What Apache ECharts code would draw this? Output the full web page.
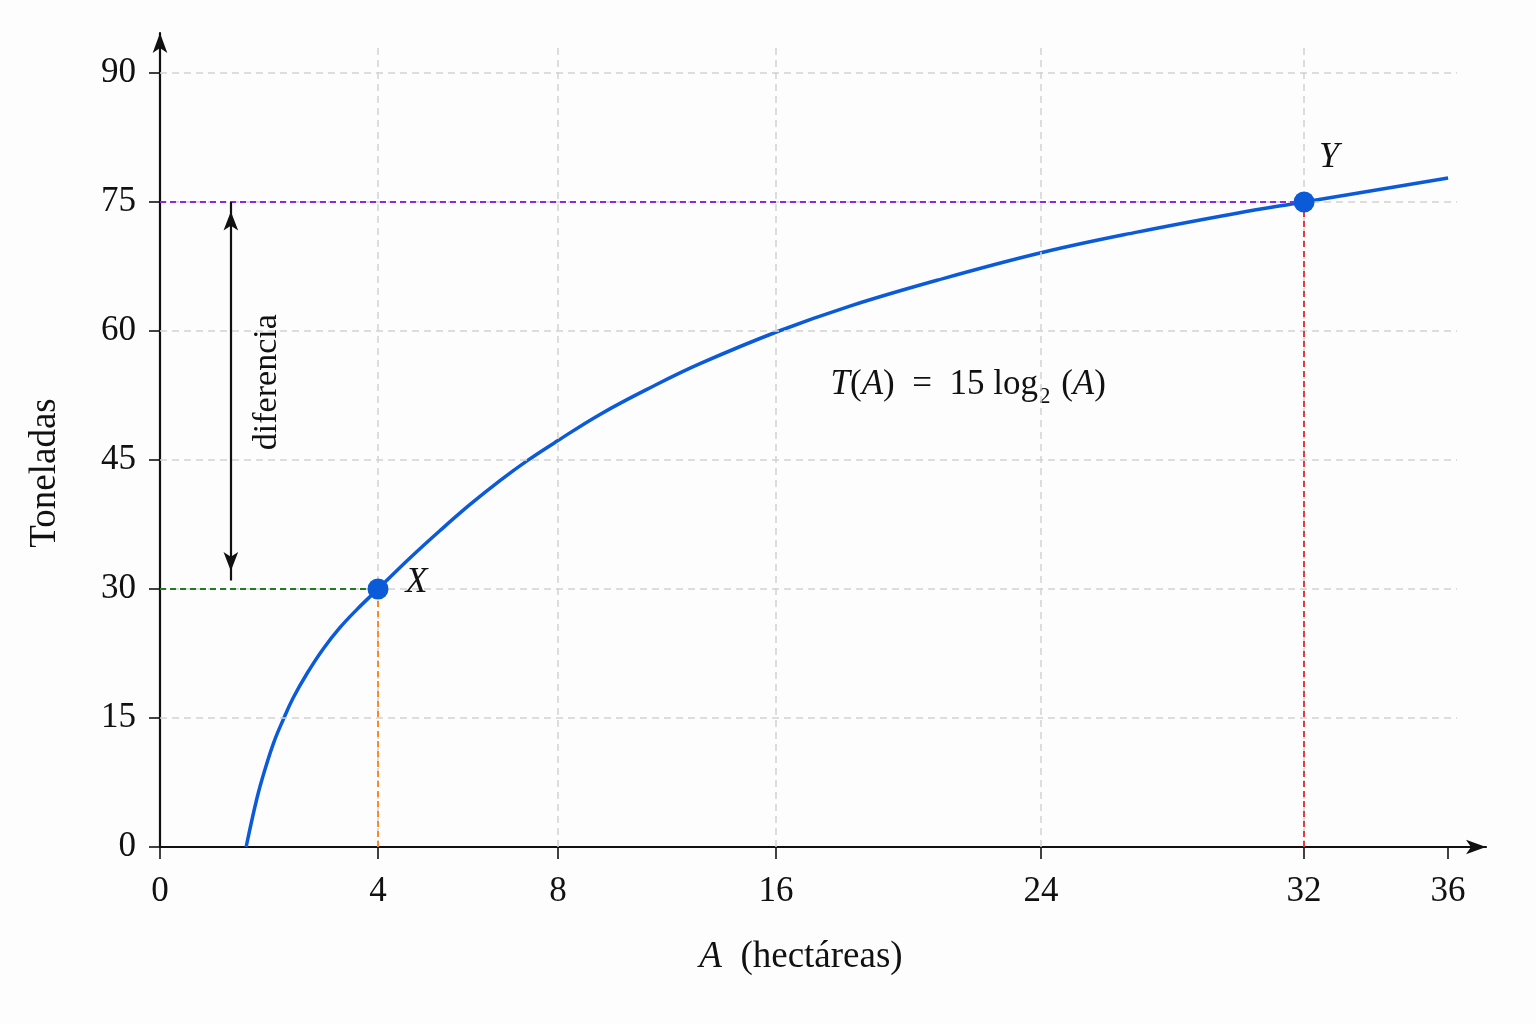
<!DOCTYPE html>
<html>
<head>
<meta charset="utf-8">
<title>T(A) = 15 log2(A)</title>
<script src="https://cdn.jsdelivr.net/npm/echarts@6.0.0/dist/echarts.min.js"></script>
<style>
html, body { margin: 0; padding: 0; background: #fdfdfd; }
#chart { width: 1536px; height: 1024px; }
</style>
</head>
<body>
<div id="chart"></div>
<script>
// x ticks (hectáreas); the picture's x scale is not linear, so each tick has its own place
var xTicks = [0, 4, 8, 16, 24, 32, 36];
var xTickPos = [0, 6.093, 11.124, 17.217, 24.624, 31.975, 36];
var xGrid = [4, 8, 16, 24, 32];
var yTicks = [0, 15, 30, 45, 60, 75, 90];

// curve
var curveA = [1.58, 1.78, 1.93, 2.09, 2.26, 2.44, 2.70, 2.99, 3.30, 3.61, 4, 4.71, 5.38, 6.04, 6.71, 7.31, 7.98,
    9.54, 11.38, 13.21, 16.09, 18.23, 20.86, 24, 26.92, 29.96, 32, 36];
var curveT = [0, 5.7, 9.1, 12.2, 14.8, 17.3, 20.2, 23.0, 25.5, 27.6, 30, 33.6, 36.8, 39.8, 42.6, 44.9, 47.2,
    50.3, 53.4, 56.2, 60.0, 62.9, 65.9, 69.1, 71.5, 73.7, 75, 77.8];

// marked points
var pointNames = ['X', 'Y'];
var pointA = [4, 32];
var pointT = [30, 75];

// "diferencia" arrow
var diffA = 1.3;
var diffT = [31, 75];

var X_MAX = 37.06, Y_MAX = 94.65;
var GRID_END_U = 36.25, GRID_TOP_T = 93.5;
var FONT = '"Liberation Serif", "DejaVu Serif", serif';
var BLUE = '#0b5bd9';
var INK = '#111';

// A -> position along the x axis
function warp(a) {
    for (var i = 1; i < xTicks.length; i++) {
        if (a <= xTicks[i] || i == xTicks.length - 1) {
            var t = (a - xTicks[i - 1]) / (xTicks[i] - xTicks[i - 1]);
            return xTickPos[i - 1] + t * (xTickPos[i] - xTickPos[i - 1]);
        }
    }
}

function tickName(u) {
    var best = 0;
    for (var i = 0; i < xTickPos.length; i++) {
        if (Math.abs(xTickPos[i] - u) < Math.abs(xTickPos[best] - u)) best = i;
    }
    return String(xTicks[best]);
}

function seg(x1, y1, x2, y2) {
    return [{ coord: [x1, y1] }, { coord: [x2, y2] }];
}

var gridLines = [];
yTicks.slice(1).forEach(function (t) { gridLines.push(seg(0, t, GRID_END_U, t)); });
xGrid.forEach(function (a) { gridLines.push(seg(warp(a), 0, warp(a), GRID_TOP_T)); });

var guideColors = ['#1e7d1e', '#ff7f0e', '#8a2be2', '#e8262e'];
var guideLines = [
    seg(0, pointT[0], warp(pointA[0]), pointT[0]),
    seg(warp(pointA[0]), 0, warp(pointA[0]), pointT[0]),
    seg(0, pointT[1], warp(pointA[1]), pointT[1]),
    seg(warp(pointA[1]), 0, warp(pointA[1]), pointT[1])
].map(function (l, i) {
    l[0].lineStyle = { color: guideColors[i] };
    return l;
});

var dom = document.getElementById('chart');
var chart = echarts.init(dom);
var option = {
    backgroundColor: '#fdfdfd',
    animation: false,
    grid: { left: 160, right: 50, top: 33, bottom: 177 },
    xAxis: {
        type: 'value',
        min: 0,
        max: X_MAX,
        name: '{i|A}  (hectáreas)',
        nameLocation: 'middle',
        nameGap: 92,
        nameTextStyle: {
            fontFamily: FONT, fontSize: 37, color: INK, padding: [0, 44, 0, 0],
            rich: { i: { fontFamily: FONT, fontSize: 37, fontStyle: 'italic', color: INK } }
        },
        axisLine: { symbol: ['none', 'arrow'], symbolSize: [11, 20], lineStyle: { color: INK, width: 2.2 } },
        axisTick: { customValues: xTickPos, length: 12, lineStyle: { color: INK, width: 1.6 } },
        axisLabel: {
            customValues: xTickPos, margin: 27, fontFamily: FONT, fontSize: 35, color: INK,
            formatter: tickName
        },
        splitLine: { show: false }
    },
    yAxis: {
        type: 'value',
        min: 0,
        max: Y_MAX,
        name: 'Toneladas',
        nameLocation: 'middle',
        nameGap: 96,
        nameTextStyle: { fontFamily: FONT, fontSize: 37, color: INK, padding: [0, 66, 0, 0] },
        axisLine: { symbol: ['none', 'arrow'], symbolSize: [11, 20], lineStyle: { color: INK, width: 2.2 } },
        axisTick: { customValues: yTicks, length: 11, lineStyle: { color: INK, width: 1.6 } },
        axisLabel: { customValues: yTicks, margin: 24, fontFamily: FONT, fontSize: 35, color: INK },
        splitLine: { show: false }
    },
    series: [{
            name: 'grid',
            type: 'line',
            data: [],
            z: 1,
            silent: true,
            markLine: {
                silent: true,
                symbol: 'none',
                label: { show: false },
                emphasis: { disabled: true },
                lineStyle: { color: '#d2d2d2', type: [7, 5], width: 1.5 },
                data: gridLines
            }
        },
        {
            name: 'guides',
            type: 'line',
            data: [],
            z: 2,
            silent: true,
            markLine: {
                silent: true,
                symbol: 'none',
                label: { show: false },
                emphasis: { disabled: true },
                lineStyle: { type: [6, 4], width: 1.8 },
                data: guideLines
            }
        },
        {
            name: 'diferencia',
            type: 'line',
            data: [],
            z: 3,
            silent: true,
            markLine: {
                silent: true,
                symbol: ['arrow', 'arrow'],
                symbolSize: [11, 19],
                symbolOffset: [[0, '50%'], [0, '50%']],
                label: { show: false },
                emphasis: { disabled: true },
                lineStyle: { color: INK, type: 'solid', width: 2.2 },
                data: [seg(warp(diffA), diffT[0], warp(diffA), diffT[1])]
            }
        },
        {
            name: 'T(A)',
            type: 'line',
            data: curveA.map(function (a, i) { return [warp(a), curveT[i]]; }),
            smooth: 0.4,
            showSymbol: false,
            z: 4,
            silent: true,
            lineStyle: { color: BLUE, width: 3.5 }
        },
        {
            name: 'puntos',
            type: 'scatter',
            z: 5,
            silent: true,
            symbolSize: 21,
            itemStyle: { color: BLUE, opacity: 1 },
            label: {
                show: true,
                formatter: '{i|{b}}',
                rich: { i: { fontFamily: FONT, fontSize: 36, fontStyle: 'italic', color: INK } }
            },
            data: pointA.map(function (a, i) {
                return {
                    name: pointNames[i],
                    value: [warp(a), pointT[i]],
                    label: i == 0 ? { position: 'right', offset: [12, -6] } : { position: 'top', offset: [25, -11] }
                };
            })
        }
    ]
};
chart.setOption(option);

// annotation texts, placed from data coordinates
var mid = chart.convertToPixel({ gridIndex: 0 }, [warp(diffA), (diffT[0] + diffT[1]) / 2]);
var fPos = chart.convertToPixel({ gridIndex: 0 }, [warp(21.8), 53.7]);
chart.setOption({
    graphic: [{
            type: 'text',
            x: mid[0] + 36,
            y: mid[1] - 9,
            rotation: Math.PI / 2,
            silent: true,
            style: {
                text: 'diferencia',
                font: '34px ' + FONT,
                fill: INK,
                align: 'center', verticalAlign: 'middle',
                textAlign: 'center', textVerticalAlign: 'middle'
            }
        },
        {
            type: 'text',
            x: fPos[0],
            y: fPos[1],
            silent: true,
            style: {
                text: '{i|T}({i|A})  =  15 log{s|2} ({i|A})',
                font: '35px ' + FONT,
                fill: INK,
                align: 'center', verticalAlign: 'middle',
                textAlign: 'center', textVerticalAlign: 'middle',
                rich: {
                    i: { fontFamily: FONT, fontSize: 35, fontStyle: 'italic', fill: INK, color: INK },
                    s: { fontFamily: FONT, fontSize: 23, fill: INK, color: INK, padding: [24, 2, 0, 1] }
                }
            }
        }
    ]
});
</script>
</body>
</html>
